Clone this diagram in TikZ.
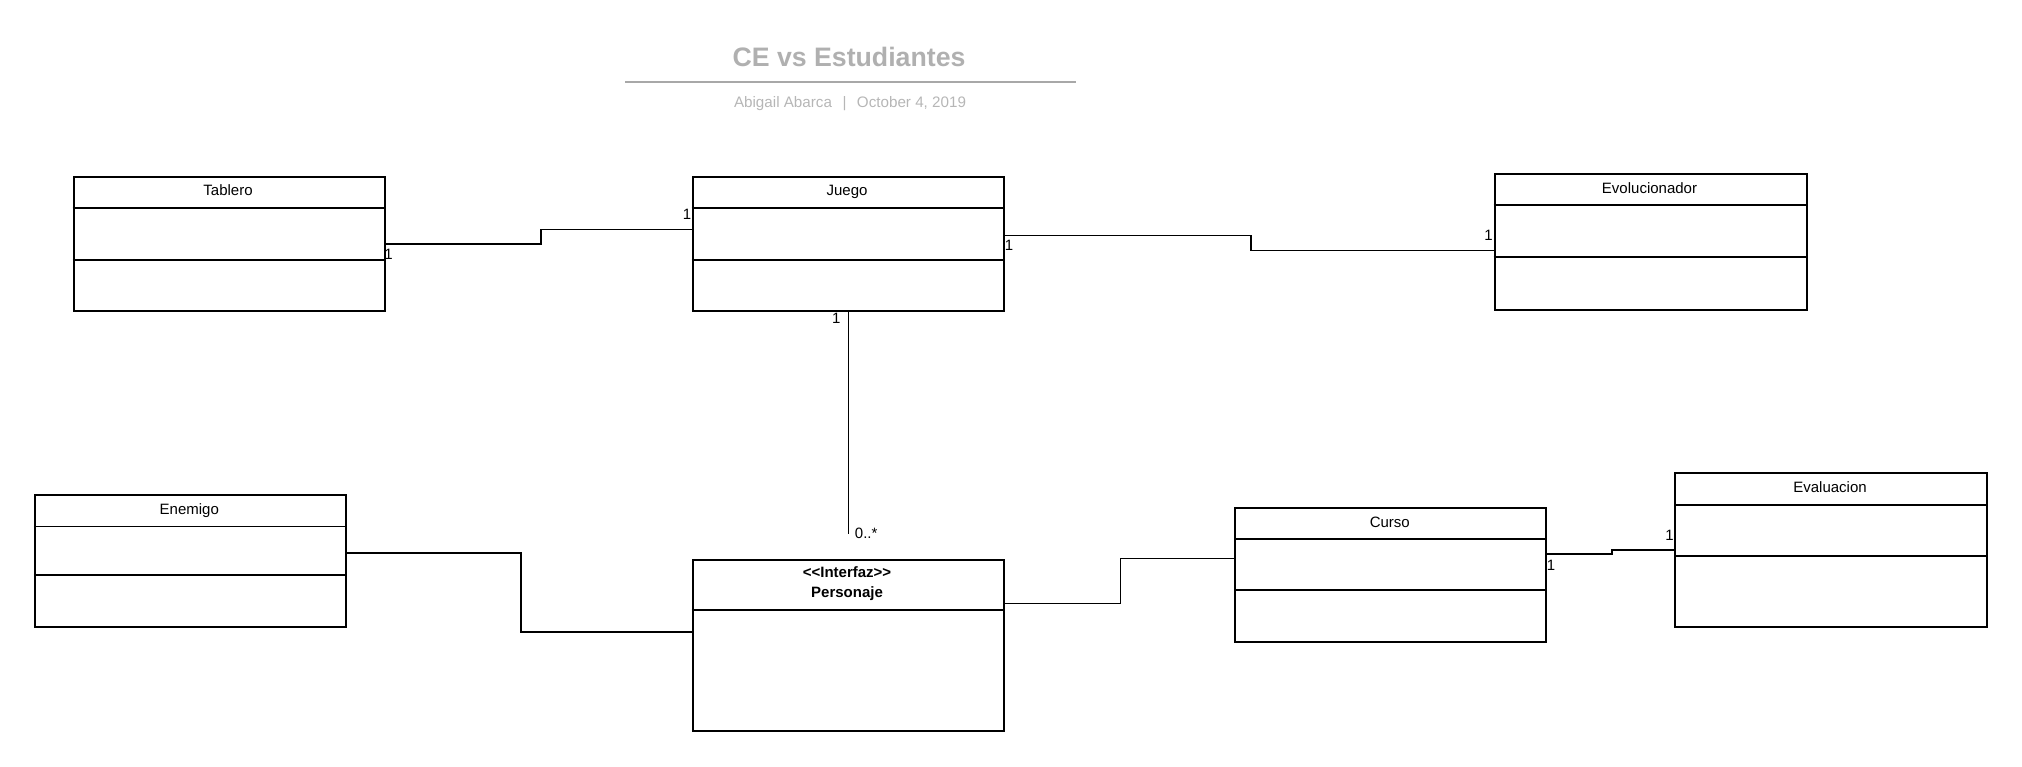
\documentclass[tikz,border=0pt]{standalone}
\usepackage{fontspec}
\setmainfont{Liberation Sans}
\definecolor{titlegray}{HTML}{B0B0B0}
\definecolor{subgray}{HTML}{B6B6B6}
\definecolor{rulegray}{HTML}{A8A8A8}
\tikzset{
  umlbox/.style={draw, line width=2pt, rectangle, anchor=north west, inner sep=0pt, minimum width=311pt},
  cname/.style={anchor=base, inner sep=0pt, font=\fontsize{15}{18}\selectfont},
  mult/.style={inner sep=0pt, font=\fontsize{15}{18}\selectfont},
  conn/.style={line width=1.6pt},
  thinconn/.style={line width=1pt},
  divider/.style={line width=2pt},
}
\begin{document}
\begin{tikzpicture}[x=1pt,y=-1pt]
\useasboundingbox (0,0) rectangle (2022,766);
% title
\node[anchor=base, inner sep=0pt, text=titlegray, font=\fontsize{26.7}{30}\selectfont\bfseries] (title) at (849,66.7) {CE vs Estudiantes};
\draw[rulegray, line width=2pt] (625,81.7) -- (1076,81.7);
\node[anchor=base, inner sep=0pt, text=subgray, font=\fontsize{15.2}{18}\selectfont] (sub) at (850,107.3) {Abigail Abarca\hspace{10.5pt}|\hspace{10.5pt}October 4, 2019};

% Tablero
\node[umlbox, minimum height=134pt] (tab) at (72.5,175.7) {};
\draw[divider] ([yshift=-32.2pt]tab.north west) -- ([yshift=-32.2pt]tab.north east);
\draw[divider] ([yshift=-83.8pt]tab.north west) -- ([yshift=-83.8pt]tab.north east);
\node[cname] (tabT) at (228,195.6) {Tablero};

% Juego
\node[umlbox, minimum height=134pt] (jue) at (691.5,175.7) {};
\draw[divider] ([yshift=-32.2pt]jue.north west) -- ([yshift=-32.2pt]jue.north east);
\draw[divider] ([yshift=-83.8pt]jue.north west) -- ([yshift=-83.8pt]jue.north east);
\node[cname] (jueT) at (847,195.6) {Juego};

% Evolucionador
\node[umlbox, minimum width=312pt, minimum height=135.4pt] (evo) at (1493.5,173.1) {};
\draw[divider] ([yshift=-32.2pt]evo.north west) -- ([yshift=-32.2pt]evo.north east);
\draw[divider] ([yshift=-83.8pt]evo.north west) -- ([yshift=-83.8pt]evo.north east);
\node[cname] (evoT) at (1649.5,193) {Evolucionador};

% Enemigo
\node[umlbox, minimum height=131.5pt] (ene) at (33.8,494.2) {};
\draw[line width=1pt] ([yshift=-32.2pt]ene.north west) -- ([yshift=-32.2pt]ene.north east);
\draw[divider] ([yshift=-81.2pt]ene.north west) -- ([yshift=-81.2pt]ene.north east);
\node[cname] (eneT) at (189.3,514.1) {Enemigo};

% Personaje
\node[umlbox, minimum height=171.5pt] (per) at (691.5,558.6) {};
\draw[divider] ([yshift=-51.6pt]per.north west) -- ([yshift=-51.6pt]per.north east);
\node[cname, font=\fontsize{15}{18}\selectfont\bfseries] (perS) at (847,577.8) {<{}<Interfaz>{}>};
\node[cname, font=\fontsize{15}{18}\selectfont\bfseries] (perT) at (847,597) {Personaje};

% Curso
\node[umlbox, minimum height=134pt] (cur) at (1234.3,507.1) {};
\draw[divider] ([yshift=-32.2pt]cur.north west) -- ([yshift=-32.2pt]cur.north east);
\draw[divider] ([yshift=-82.5pt]cur.north west) -- ([yshift=-82.5pt]cur.north east);
\node[cname] (curT) at (1389.8,527.2) {Curso};

% Evaluacion
\node[umlbox, minimum width=312pt, minimum height=153.5pt] (eva) at (1674,472.2) {};
\draw[divider] ([yshift=-32.3pt]eva.north west) -- ([yshift=-32.3pt]eva.north east);
\draw[divider] ([yshift=-83.9pt]eva.north west) -- ([yshift=-83.9pt]eva.north east);
\node[cname] (evaT) at (1830,492.3) {Evaluacion};

% connectors
\draw[conn] (tab.east) -- ++(155.5,0) |- ([yshift=14.2pt]jue.west);
\draw[conn] ([yshift=8.2pt]jue.east) -- ++(246.5,0) |- ([yshift=-8.8pt]evo.west);
\coordinate (perTop) at ([yshift=24.6pt]per.north);
\draw[thinconn] (jue.south) -- (perTop);
\draw[conn] ([yshift=7.75pt]ene.east) -- ++(174.1,0) |- ([yshift=13.65pt]per.west);
\draw[line width=1pt] ([yshift=41.65pt]per.east) -- ++(115.8,0) |- ([yshift=17.1pt]cur.west);
\draw[conn] ([yshift=21.1pt]cur.east) -- ++(64.5,0) |- (eva.west);

% multiplicities
\node[mult] (m1) at (388.5,254) {1};
\node[mult] (m2) at (687,214) {1};
\node[mult] (m3) at (1009,245.7) {1};
\node[mult] (m4) at (1488.5,235) {1};
\node[mult] (m5) at (836.2,318.8) {1};
\node[mult] (m6) at (866.2,533.8) {0..*};
\node[mult] (m7) at (1551,565.8) {1};
\node[mult] (m8) at (1669.5,535.4) {1};
\end{tikzpicture}
\end{document}
